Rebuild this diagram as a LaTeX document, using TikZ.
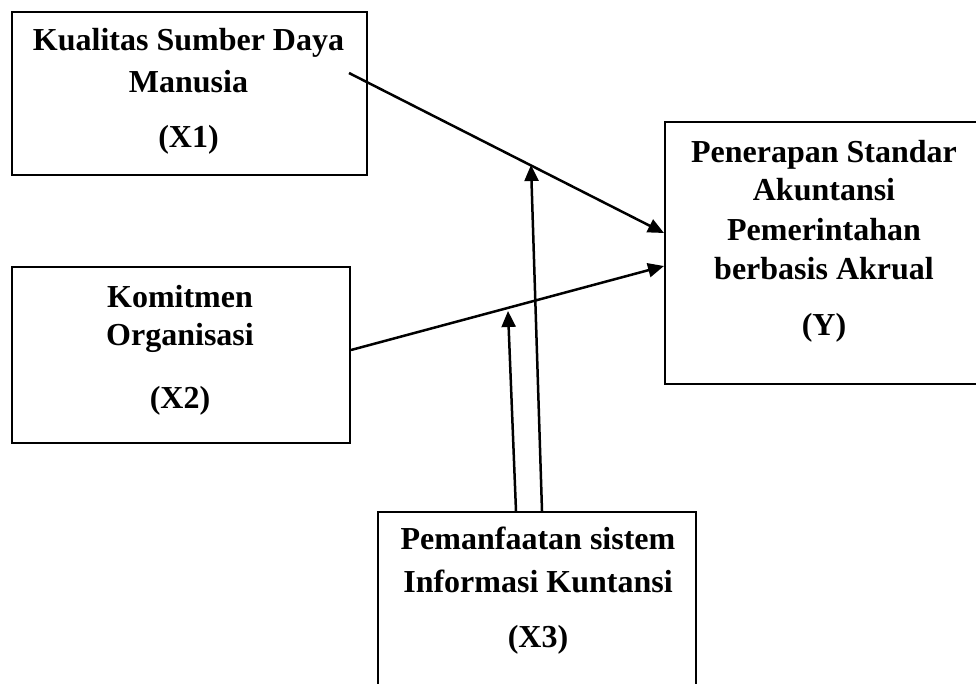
\documentclass[tikz,border=0pt]{standalone}
\usepackage{fontspec}
\setmainfont{Liberation Serif}
\usetikzlibrary{arrows.meta}
\begin{document}
\begin{tikzpicture}[x=1pt,y=-1pt,
  box/.style={draw=black,line width=2pt,rectangle,inner sep=0pt,anchor=north west},
  lbl/.style={anchor=base,inner sep=0pt,font=\fontsize{32}{38}\selectfont\bfseries},
  arr/.style={line width=2.5pt,-{Triangle[length=16pt,width=14pt]}}]
\useasboundingbox (0,0) rectangle (976,683);
\begin{scope}
\clip (0,0) rectangle (976,683);
% boxes
\node[box,minimum width=355pt,minimum height=163pt] (x1) at (11,11) {};
\node[box,minimum width=338pt,minimum height=176pt] (x2) at (11,266) {};
\node[box,minimum width=340pt,minimum height=262pt] (y) at (664,121) {};
\node[box,minimum width=318pt,minimum height=200pt] (x3) at (377,511) {};
% texts
\node[lbl] (t1a) at (188.5,50) {Kualitas Sumber Daya};
\node[lbl] (t1b) at (188.5,92) {Manusia};
\node[lbl] (t1c) at (188.5,147) {(X1)};
\node[lbl] (t2a) at (180,307) {Komitmen};
\node[lbl] (t2b) at (180,345) {Organisasi};
\node[lbl] (t2c) at (180,408) {(X2)};
\node[lbl] (tya) at (824,162) {Penerapan Standar};
\node[lbl] (tyb) at (824,200) {Akuntansi};
\node[lbl] (tyc) at (824,240) {Pemerintahan};
\node[lbl] (tyd) at (824,279) {berbasis Akrual};
\node[lbl] (tye) at (824,335) {(Y)};
\node[lbl] (t3a) at (538,549) {Pemanfaatan sistem};
\node[lbl] (t3b) at (538,592) {Informasi Kuntansi};
\node[lbl] (t3c) at (538,647) {(X3)};
% connector ends
\coordinate (s1) at (349,73);
\coordinate (e1) at (y.west |- 0,233);
\coordinate (s2) at (x2.east |- 0,350);
\coordinate (e2) at (y.west |- 0,266);
\coordinate (s3) at (542,511);
\coordinate (e3) at (531,165);
\coordinate (s4) at (516,511);
\coordinate (e4) at (508,311);
\draw[arr] (s1) -- (e1);
\draw[arr] (s2) -- (e2);
\draw[arr] (s3) -- (e3);
\draw[arr] (s4) -- (e4);
\end{scope}
\end{tikzpicture}
\end{document}
